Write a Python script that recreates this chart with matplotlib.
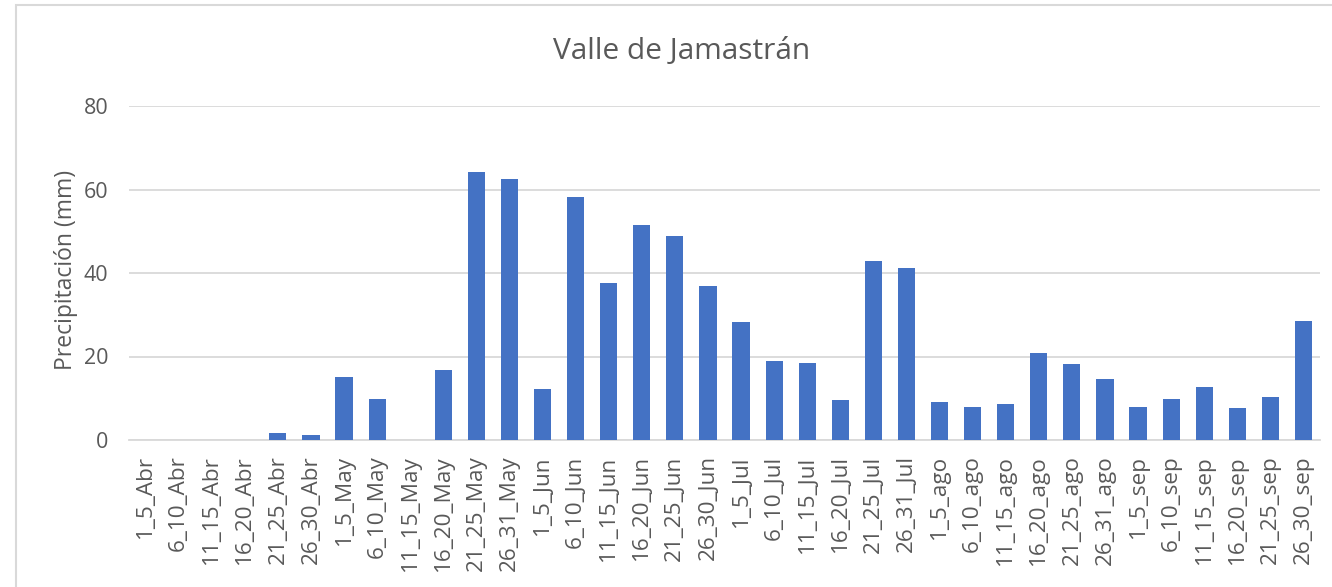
import matplotlib
matplotlib.use("Agg")
import matplotlib.pyplot as plt
from matplotlib.patches import Rectangle

categories = [
    "1_5_Abr", "6_10_Abr", "11_15_Abr", "16_20_Abr", "21_25_Abr", "26_30_Abr",
    "1_5_May", "6_10_May", "11_15_May", "16_20_May", "21_25_May", "26_31_May",
    "1_5_Jun", "6_10_Jun", "11_15_Jun", "16_20_Jun", "21_25_Jun", "26_30_Jun",
    "1_5_Jul", "6_10_Jul", "11_15_Jul", "16_20_Jul", "21_25_Jul", "26_31_Jul",
    "1_5_ago", "6_10_ago", "11_15_ago", "16_20_ago", "21_25_ago", "26_31_ago",
    "1_5_sep", "6_10_sep", "11_15_sep", "16_20_sep", "21_25_sep", "26_30_sep",
]
precip = [
    0, 0, 0, 0, 1.7, 1.2,
    15.1, 9.8, 0, 16.8, 64.2, 62.5,
    12.2, 58.2, 37.6, 51.5, 48.9, 36.9,
    28.3, 18.9, 18.4, 9.6, 42.9, 41.2,
    9.1, 7.9, 8.6, 20.8, 18.2, 14.6,
    7.9, 9.8, 12.7, 7.7, 10.3, 28.5,
]
yticks = [0, 20, 40, 60, 80]

plt.rcParams["font.family"] = ["Open Sans", "DejaVu Sans"]
text_color = "#595959"
grid_color = "#d9d9d9"

fig = plt.figure(figsize=(13.32, 5.87), dpi=100)
fig.patch.set_facecolor("white")

# outer chart frame
fig.add_artist(Rectangle((16 / 1332, -0.01), 1.02, 1 - 5 / 587 + 0.01,
                         transform=fig.transFigure, fill=False,
                         edgecolor="#d9d9d9", linewidth=1.5))

ax = fig.add_axes([129 / 1332, 1 - 440 / 587, (1320 - 129) / 1332, (440 - 106) / 587])
x = range(len(categories))
ax.bar(x, precip, width=0.52, color="#4472c4", zorder=3)

ax.set_ylim(0, 80)
ax.set_xlim(-0.5, len(categories) - 0.5)
ax.set_yticks(yticks)
ax.set_xticks(list(x))
ax.set_xticklabels(categories, rotation=90)
ax.tick_params(axis="y", length=0, colors=text_color, labelsize=15.5, pad=15)
ax.tick_params(axis="x", length=0, colors=text_color, labelsize=16.2, pad=11)
ax.grid(axis="y", color=grid_color, linewidth=1.3, zorder=0)
for side in ["top", "right", "left"]:
    ax.spines[side].set_visible(False)
ax.spines["bottom"].set_color(grid_color)
ax.spines["bottom"].set_linewidth(1.3)

fig.text(66 / 1332, 1 - 270 / 587, "Precipitación (mm)", rotation=90,
         ha="center", va="center", color=text_color, fontsize=16.5)
fig.text(682 / 1332, 1 - 52 / 587, "Valle de Jamastrán", ha="center", va="center",
         color=text_color, fontsize=21.5)

fig.savefig("out.png", dpi=100)
